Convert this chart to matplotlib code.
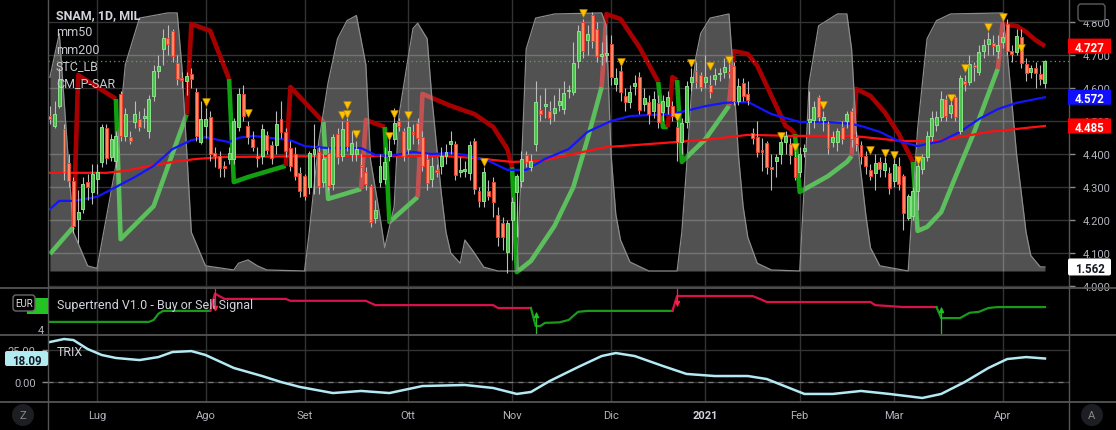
import matplotlib
matplotlib.use("Agg")
import matplotlib.pyplot as plt
import matplotlib.transforms as mtransforms
from matplotlib.patches import Rectangle, FancyBboxPatch, Circle
from matplotlib.lines import Line2D
import pandas as pd

plt.rcParams['font.family'] = ['Roboto', 'DejaVu Sans']

W, H = 1116, 431

# trading days (Borsa Italiana closed on these)
closed = ['2020-12-24', '2020-12-25', '2020-12-31', '2021-01-01', '2021-04-02', '2021-04-05']
days = pd.bdate_range('2020-06-17', '2021-04-16')
days = days[~days.isin(pd.to_datetime(closed))]
month_names = ['Lug', 'Ago', 'Set', 'Ott', 'Nov', 'Dic', '2021', 'Feb', 'Mar', 'Apr']

# SNAM daily candles (EUR)
opens = [4.515, 4.485, 4.545, 4.476, 4.373, 4.318, 4.203, 4.233, 4.315, 4.285,
         4.324, 4.376, 4.479, 4.391, 4.379, 4.582, 4.455, 4.452, 4.497, 4.506,
         4.509, 4.470, 4.576, 4.652, 4.718, 4.751, 4.773, 4.676, 4.630, 4.621,
         4.642, 4.588, 4.436, 4.485, 4.512, 4.403, 4.394, 4.364, 4.385, 4.385,
         4.482, 4.582, 4.485, 4.445, 4.394, 4.394, 4.458, 4.427, 4.427, 4.506,
         4.467, 4.418, 4.400, 4.342, 4.333, 4.300, 4.400, 4.406, 4.315, 4.403,
         4.309, 4.461, 4.394, 4.500, 4.400, 4.400, 4.367, 4.346, 4.303, 4.206,
         4.315, 4.324, 4.394, 4.445, 4.500, 4.470, 4.415, 4.467, 4.494, 4.452,
         4.385, 4.324, 4.352, 4.364, 4.394, 4.431, 4.430, 4.346, 4.349, 4.343,
         4.439, 4.288, 4.258, 4.288, 4.315, 4.215, 4.191, 4.103, 4.200, 4.285,
         4.318, 4.397, 4.361, 4.430, 4.533, 4.545, 4.530, 4.524, 4.549, 4.536,
         4.591, 4.588, 4.682, 4.800, 4.745, 4.821, 4.779, 4.697, 4.700, 4.733,
         4.612, 4.651, 4.576, 4.558, 4.606, 4.633, 4.552, 4.558, 4.530, 4.555,
         4.527, 4.545, 4.545, 4.482, 4.436, 4.497, 4.618, 4.652, 4.640, 4.618,
         4.609, 4.627, 4.643, 4.649, 4.649, 4.667, 4.561, 4.615, 4.582, 4.464,
         4.452, 4.412, 4.433, 4.361, 4.379, 4.400, 4.436, 4.430, 4.391, 4.345,
         4.409, 4.497, 4.503, 4.573, 4.503, 4.491, 4.436, 4.436, 4.482, 4.500,
         4.530, 4.452, 4.427, 4.394, 4.352, 4.343, 4.376, 4.352, 4.342, 4.318,
         4.364, 4.333, 4.206, 4.212, 4.288, 4.355, 4.391, 4.455, 4.488, 4.512,
         4.567, 4.524, 4.573, 4.470, 4.621, 4.618, 4.670, 4.649, 4.712, 4.733,
         4.736, 4.712, 4.739, 4.794, 4.712, 4.709, 4.755, 4.673, 4.649, 4.661,
         4.643, 4.615]
highs = [4.545, 4.560, 4.660, 4.490, 4.400, 4.330, 4.290, 4.330, 4.340, 4.370,
         4.370, 4.490, 4.490, 4.460, 4.470, 4.590, 4.540, 4.470, 4.560, 4.530,
         4.540, 4.580, 4.670, 4.700, 4.780, 4.790, 4.780, 4.700, 4.650, 4.650,
         4.660, 4.600, 4.560, 4.540, 4.530, 4.420, 4.410, 4.380, 4.420, 4.510,
         4.600, 4.610, 4.500, 4.470, 4.420, 4.490, 4.470, 4.440, 4.530, 4.560,
         4.480, 4.440, 4.420, 4.360, 4.340, 4.410, 4.490, 4.420, 4.400, 4.420,
         4.460, 4.480, 4.500, 4.510, 4.470, 4.440, 4.400, 4.360, 4.310, 4.260,
         4.400, 4.420, 4.450, 4.540, 4.510, 4.480, 4.500, 4.490, 4.510, 4.470,
         4.400, 4.390, 4.370, 4.420, 4.430, 4.470, 4.440, 4.390, 4.380, 4.440,
         4.450, 4.300, 4.360, 4.320, 4.330, 4.240, 4.210, 4.200, 4.270, 4.340,
         4.410, 4.410, 4.400, 4.620, 4.580, 4.600, 4.560, 4.580, 4.600, 4.620,
         4.610, 4.740, 4.790, 4.810, 4.790, 4.830, 4.800, 4.740, 4.760, 4.760,
         4.660, 4.670, 4.600, 4.610, 4.640, 4.650, 4.600, 4.580, 4.590, 4.580,
         4.580, 4.590, 4.560, 4.500, 4.510, 4.620, 4.660, 4.680, 4.650, 4.700,
         4.640, 4.660, 4.660, 4.690, 4.680, 4.680, 4.630, 4.630, 4.620, 4.480,
         4.500, 4.450, 4.440, 4.400, 4.400, 4.460, 4.470, 4.450, 4.410, 4.420,
         4.430, 4.590, 4.560, 4.580, 4.530, 4.500, 4.470, 4.480, 4.500, 4.530,
         4.540, 4.470, 4.440, 4.410, 4.370, 4.400, 4.390, 4.390, 4.360, 4.390,
         4.390, 4.340, 4.280, 4.300, 4.380, 4.400, 4.470, 4.530, 4.530, 4.590,
         4.580, 4.570, 4.580, 4.640, 4.640, 4.700, 4.680, 4.730, 4.750, 4.770,
         4.760, 4.760, 4.770, 4.810, 4.730, 4.780, 4.780, 4.690, 4.670, 4.680,
         4.670, 4.685]
lows = [4.490, 4.480, 4.540, 4.320, 4.300, 4.160, 4.130, 4.220, 4.260, 4.250,
        4.280, 4.360, 4.370, 4.380, 4.360, 4.440, 4.440, 4.430, 4.480, 4.470,
        4.480, 4.450, 4.560, 4.630, 4.670, 4.700, 4.680, 4.610, 4.600, 4.580,
        4.600, 4.440, 4.430, 4.450, 4.380, 4.360, 4.330, 4.330, 4.370, 4.370,
        4.470, 4.500, 4.430, 4.410, 4.360, 4.370, 4.400, 4.370, 4.400, 4.450,
        4.390, 4.350, 4.320, 4.270, 4.260, 4.280, 4.280, 4.280, 4.300, 4.290,
        4.290, 4.370, 4.380, 4.410, 4.380, 4.380, 4.330, 4.290, 4.180, 4.190,
        4.300, 4.310, 4.380, 4.430, 4.470, 4.380, 4.400, 4.430, 4.430, 4.350,
        4.290, 4.300, 4.330, 4.340, 4.370, 4.400, 4.320, 4.330, 4.330, 4.320,
        4.280, 4.240, 4.240, 4.260, 4.210, 4.120, 4.110, 4.040, 4.080, 4.150,
        4.300, 4.360, 4.350, 4.410, 4.500, 4.510, 4.490, 4.500, 4.530, 4.520,
        4.570, 4.580, 4.660, 4.690, 4.700, 4.720, 4.680, 4.670, 4.680, 4.610,
        4.590, 4.560, 4.530, 4.540, 4.580, 4.520, 4.530, 4.490, 4.510, 4.480,
        4.500, 4.520, 4.500, 4.380, 4.400, 4.480, 4.590, 4.600, 4.590, 4.600,
        4.570, 4.610, 4.620, 4.630, 4.630, 4.550, 4.550, 4.560, 4.550, 4.430,
        4.390, 4.350, 4.340, 4.290, 4.330, 4.370, 4.400, 4.370, 4.320, 4.330,
        4.390, 4.460, 4.480, 4.500, 4.470, 4.400, 4.420, 4.410, 4.430, 4.480,
        4.420, 4.410, 4.370, 4.340, 4.320, 4.290, 4.330, 4.330, 4.280, 4.300,
        4.290, 4.170, 4.200, 4.200, 4.230, 4.340, 4.380, 4.440, 4.470, 4.500,
        4.500, 4.510, 4.500, 4.460, 4.590, 4.610, 4.620, 4.640, 4.690, 4.700,
        4.700, 4.690, 4.720, 4.700, 4.680, 4.700, 4.660, 4.620, 4.630, 4.600,
        4.610, 4.600]
closes = [4.506, 4.521, 4.627, 4.345, 4.318, 4.182, 4.224, 4.309, 4.300, 4.339,
          4.345, 4.482, 4.388, 4.445, 4.455, 4.455, 4.521, 4.439, 4.521, 4.482,
          4.515, 4.567, 4.652, 4.667, 4.751, 4.733, 4.697, 4.627, 4.624, 4.636,
          4.627, 4.455, 4.506, 4.506, 4.400, 4.394, 4.358, 4.358, 4.403, 4.500,
          4.582, 4.515, 4.452, 4.421, 4.388, 4.476, 4.412, 4.388, 4.491, 4.467,
          4.409, 4.364, 4.333, 4.288, 4.273, 4.403, 4.415, 4.303, 4.385, 4.303,
          4.452, 4.391, 4.476, 4.424, 4.433, 4.415, 4.361, 4.309, 4.194, 4.230,
          4.364, 4.376, 4.409, 4.494, 4.485, 4.394, 4.482, 4.461, 4.449, 4.364,
          4.312, 4.364, 4.346, 4.394, 4.406, 4.440, 4.337, 4.352, 4.355, 4.427,
          4.294, 4.258, 4.345, 4.273, 4.255, 4.148, 4.148, 4.191, 4.255, 4.333,
          4.385, 4.376, 4.379, 4.558, 4.521, 4.552, 4.509, 4.539, 4.561, 4.585,
          4.594, 4.676, 4.773, 4.712, 4.764, 4.742, 4.697, 4.703, 4.706, 4.633,
          4.630, 4.588, 4.558, 4.588, 4.615, 4.533, 4.570, 4.521, 4.567, 4.497,
          4.561, 4.573, 4.515, 4.436, 4.494, 4.606, 4.633, 4.618, 4.603, 4.633,
          4.588, 4.640, 4.646, 4.664, 4.646, 4.561, 4.606, 4.576, 4.564, 4.449,
          4.406, 4.406, 4.361, 4.355, 4.391, 4.436, 4.455, 4.397, 4.330, 4.400,
          4.418, 4.506, 4.542, 4.512, 4.512, 4.418, 4.452, 4.470, 4.445, 4.521,
          4.445, 4.430, 4.394, 4.364, 4.333, 4.373, 4.355, 4.373, 4.297, 4.370,
          4.309, 4.221, 4.273, 4.288, 4.364, 4.391, 4.455, 4.509, 4.512, 4.567,
          4.515, 4.549, 4.512, 4.630, 4.612, 4.673, 4.664, 4.709, 4.730, 4.749,
          4.727, 4.730, 4.755, 4.712, 4.703, 4.758, 4.676, 4.646, 4.661, 4.646,
          4.627, 4.682]

price_ticks = [4.0, 4.1, 4.2, 4.3, 4.4, 4.5, 4.6, 4.7, 4.8]

# mm50 / mm200 read at points along the lines
ma50_i = [0, 2, 5, 10, 14, 18, 22, 26, 30, 33, 38, 40, 43, 51, 54, 59, 66, 69, 72, 77,
          81, 85, 88, 93, 97, 101, 105, 110, 114, 119, 123, 127, 132, 139, 143, 148, 153, 159, 165, 170,
          172, 176, 180, 184, 189, 193, 197, 201, 205, 211]
ma50_v = [4.233, 4.258, 4.258, 4.270, 4.300, 4.330, 4.364, 4.415, 4.442, 4.451,
          4.436, 4.449, 4.455, 4.442, 4.424, 4.418, 4.418, 4.397, 4.394, 4.406,
          4.400, 4.403, 4.397, 4.379, 4.352, 4.352, 4.385, 4.415, 4.467, 4.500,
          4.515, 4.518, 4.521, 4.545, 4.555, 4.558, 4.521, 4.497, 4.497, 4.491,
          4.485, 4.467, 4.439, 4.424, 4.439, 4.467, 4.506, 4.536, 4.555, 4.572]
ma200_i = [0, 12, 16, 20, 26, 31, 37, 60, 83, 90, 98, 104, 111, 118, 125, 139, 148, 157, 170, 181,
           187, 192, 199, 211]
ma200_v = [4.343, 4.343, 4.349, 4.361, 4.376, 4.385, 4.391, 4.394, 4.394, 4.388,
           4.376, 4.379, 4.400, 4.421, 4.428, 4.443, 4.458, 4.455, 4.455, 4.439,
           4.439, 4.449, 4.467, 4.485]

# STC_LB (0..100, own scale)
stc_i = [0, 2, 5, 8, 10, 14, 16, 19, 25, 27,
         28, 30, 33, 39, 40, 42, 44, 46, 54, 55,
         57, 59, 61, 63, 65, 67, 68, 70, 71, 73,
         74, 76, 77, 78, 80, 81, 83, 84, 85, 87,
         88, 90, 92, 95, 99, 100, 101, 103, 107, 117,
         118, 119, 120, 121, 123, 127, 133, 134, 135, 136,
         137, 138, 140, 144, 145, 146, 147, 148, 150, 153,
         159, 160, 161, 163, 167, 169, 170, 171, 173, 174,
         176, 182, 183, 184, 186, 188, 191, 202, 203, 205,
         207, 208, 210, 211]
stc_v = [75, 92, 15, 2, 1, 41, 80, 98, 100, 100,
         79, 15, 2, 0.4, 3, 4.3, 2, 0.4, 0, 15,
         50, 73, 90, 97, 99, 80, 43, 21, 9, 25,
         60, 83, 94, 96, 90, 67, 30, 15, 7, 3,
         12, 7, 1.5, 0, 0, 41, 86, 98, 99.6, 100,
         95, 45, 22, 12, 3.5, 0, 0, 15, 40, 68,
         83, 92, 98, 99.6, 75, 45, 25, 13, 3, 0.4,
         0, 34, 73, 95, 99.6, 99.6, 86, 54, 22, 9,
         2, 0, 28, 55, 90, 97, 99.6, 100, 85, 45,
         15, 6, 1.6, 1.562]

# CM_P-SAR (1 = below price / green, 0 = above price / red)
sar_i = [0, 5, 6, 14, 15, 22, 29, 30, 34, 38,
         39, 42, 50, 51, 58, 59, 66, 67, 71, 72,
         78, 79, 85, 90, 94, 97, 98, 99, 102, 107,
         111, 114, 117, 118, 121, 125, 129, 130, 131, 132,
         133, 134, 139, 144, 145, 148, 150, 153, 156, 157,
         158, 159, 165, 169, 170, 171, 174, 177, 180, 183,
         184, 186, 189, 192, 196, 201, 202, 205, 207, 209,
         211]
sar_p = [4.097, 4.179, 4.639, 4.567, 4.142, 4.242, 4.520, 4.794, 4.773, 4.627,
         4.315, 4.330, 4.364, 4.603, 4.497, 4.264, 4.294, 4.503, 4.482, 4.194,
         4.270, 4.582, 4.546, 4.521, 4.482, 4.415, 4.360, 4.042, 4.076, 4.182,
         4.300, 4.445, 4.603, 4.824, 4.809, 4.724, 4.618, 4.482, 4.482, 4.633,
         4.624, 4.376, 4.445, 4.546, 4.712, 4.703, 4.667, 4.576, 4.485, 4.476,
         4.461, 4.285, 4.333, 4.376, 4.394, 4.597, 4.576, 4.527, 4.461, 4.376,
         4.167, 4.179, 4.224, 4.330, 4.467, 4.658, 4.794, 4.788, 4.770, 4.745,
         4.727]
sar_up = [1, 1, 0, 0, 1, 1, 1, 0, 0, 0,
          1, 1, 1, 0, 0, 1, 1, 0, 0, 1,
          1, 0, 0, 0, 0, 0, 0, 1, 1, 1,
          1, 1, 1, 0, 0, 0, 0, 1, 1, 0,
          0, 1, 1, 1, 0, 0, 0, 0, 0, 0,
          0, 1, 1, 1, 1, 0, 0, 0, 0, 0,
          1, 1, 1, 1, 1, 1, 0, 0, 0, 0,
          0]

# STC_LB sell marks
tri_i = [33, 42, 62, 63, 63, 65, 72, 73, 76, 92, 113, 121, 133, 136, 140, 144, 155, 158, 164, 174,
         177, 179, 184, 191, 194, 199, 202, 206]
tri_p = [4.558, 4.524, 4.518, 4.521, 4.549, 4.461, 4.455, 4.521, 4.518, 4.376,
         4.827, 4.679, 4.512, 4.676, 4.667, 4.685, 4.455, 4.421, 4.549, 4.412,
         4.403, 4.397, 4.382, 4.570, 4.661, 4.785, 4.815, 4.721]

# Supertrend V1.0
st_i = [0, 21, 22, 23, 24, 34,
        35, 37, 50, 51, 67, 69, 94, 95, 102,
        103, 104, 105, 108, 110, 112, 114, 132,
        133, 149, 151, 152, 174, 175, 181, 188,
        189, 193, 195, 197, 199, 201, 211]
st_v = [4.21, 4.21, 4.25, 4.38, 4.44, 4.44,
        4.80, 4.69, 4.69, 4.65, 4.65, 4.56, 4.56, 4.50, 4.50,
        4.125, 4.125, 4.19, 4.20, 4.25, 4.42, 4.44, 4.44,
        4.75, 4.75, 4.67, 4.625, 4.625, 4.56, 4.52, 4.52,
        4.29, 4.29, 4.40, 4.42, 4.50, 4.52, 4.52]
st_up = [1, 1, 1, 1, 1, 1,
         0, 0, 0, 0, 0, 0, 0, 0, 0,
         1, 1, 1, 1, 1, 1, 1, 1,
         0, 0, 0, 0, 0, 0, 0, 0,
         1, 1, 1, 1, 1, 1, 1]
sig_i = [35, 103, 133, 189]
sig_lo = [4.45, 3.958, 4.54, 3.958]
sig_hi = [4.917, 4.42, 4.917, 4.52]
sig_up = [0, 1, 0, 1]

# TRIX
tx_i = [0, 3, 5, 8, 11, 14, 19, 23, 26, 30, 33, 39, 45, 49, 53, 60, 66, 72, 79, 88,
        94, 99, 102, 106, 112, 117, 120, 124, 130, 135, 141, 148, 152, 160, 166, 172, 178, 185, 189, 194,
        199, 203, 207, 211]
tx_v = [30.8, 33.1, 32.3, 25.4, 20.8, 18.5, 16.9, 19.2, 23.1, 23.8,
        20.8, 10.8, 4.6, 0, -3.8, -8.5, -6.9, -8.5, -3.1, -2.3,
        -4.6, -9.2, -7.7, 0.8, 11.5, 20, 22.3, 20, 12.3, 6.2,
        4.6, 4.6, 2.3, -9.2, -9.2, -6.9, -9.2, -12.3, -9.2, 0,
        10.8, 17.7, 19.2, 18.09]
trix_ticks = [0, 25]

TXT = '#b2b5be'
GRID = '#333333'
XL = (-0.4, 216.1)


def fx(x):
    return x / W


def fy(y):
    return 1 - y / H


def prect(x0, y0, x1, y1):
    return [fx(x0), fy(y1), (x1 - x0) / W, (y1 - y0) / H]


month_pos = [i for i in range(1, len(days)) if days[i].month != days[i - 1].month]

fig = plt.figure(figsize=(W / 100, H / 100), dpi=100, facecolor='black')
ax = fig.add_axes(prect(48, 0, 1069, 288))
ax_st = fig.add_axes(prect(48, 289, 1069, 335))
ax_tx = fig.add_axes(prect(48, 336, 1069, 403))
for a in (ax, ax_st, ax_tx):
    a.set_facecolor('black')
    for s in a.spines.values():
        s.set_visible(False)
    a.set_xticks(month_pos)
    a.grid(axis='x', color=GRID, lw=1)
    a.set_axisbelow(True)
    a.tick_params(axis='x', length=0, labelbottom=False)

# ---- main pane ----
ax_stc = ax.twinx()
ax_stc.axis('off')

# parabolic SAR, one run per trend
up_col, dn_col = '#10a010', '#a80000'
start = 0
for k in range(1, len(sar_i) + 1):
    if k == len(sar_i) or sar_up[k] != sar_up[start]:
        xs = sar_i[start:k]
        ys = sar_p[start:k]
        if start > 0:
            xs = [sar_i[start - 1]] + xs
            ys = [sar_p[start - 1]] + ys
        ax.plot(xs, ys, color=up_col if sar_up[start] else dn_col, lw=3.3,
                solid_joinstyle='round', solid_capstyle='butt', zorder=1.5)
        start = k

ax.fill_between(stc_i, stc_v, 0, transform=ax_stc.transData, color='white',
                alpha=0.32, lw=0, zorder=2)
ax.plot(stc_i, stc_v, transform=ax_stc.transData, color='#8c8c8c', lw=0.9, zorder=2.1)

ax.axhline(closes[-1], color='#4caf50', ls=(0, (1, 2.5)), lw=0.9, zorder=3)

ax.plot(ma200_i, ma200_v, color='#ff1010', lw=1.6, zorder=4)
ax.plot(ma50_i, ma50_v, color='#1414ff', lw=1.6, zorder=4.1)

x = list(range(len(closes)))
rising = [c >= o for o, c in zip(opens, closes)]
body_fc = ['#4cc44c' if r else '#ff8a65' for r in rising]
body_ec = ['#8be28b' if r else '#f0402e' for r in rising]
ax.vlines(x, lows, highs, color='#bcbcbc', lw=0.8, zorder=4.5)
ax.bar(x, [c - o for o, c in zip(opens, closes)], bottom=opens, width=0.62,
       color=body_fc, edgecolor=body_ec, lw=0.7, zorder=5)

ax.scatter(tri_i, tri_p, marker='v', s=30, color='#ffc400', edgecolor='#c98f00',
           lw=0.5, zorder=6)

ax.set_xlim(*XL)
ax.set_ylim(3.997, 4.8697)
ax_stc.set_ylim(-6.2, 105.4)
ax.yaxis.tick_right()
ax.set_yticks(price_ticks)
ax.set_yticklabels(['%.3f' % t for t in price_ticks])
ax.tick_params(axis='y', length=4, width=1, color='#8a8a8a', pad=6, labelcolor=TXT,
               labelsize=8)
ax.grid(axis='y', color=GRID, lw=1)

# ---- supertrend pane ----
start = 0
st_up_col, st_dn_col = '#1a9a1a', '#d8124a'
for k in range(1, len(st_i) + 1):
    if k == len(st_i) or st_up[k] != st_up[start]:
        xs = st_i[start:k]
        ys = st_v[start:k]
        if start > 0:
            xs = [st_i[start - 1]] + xs
            ys = [st_v[start - 1]] + ys
        ax_st.plot(xs, ys, color=st_up_col if st_up[start] else st_dn_col, lw=1.6, zorder=3)
        start = k
for si, lo, hi, u in zip(sig_i, sig_lo, sig_hi, sig_up):
    c = '#22c022' if u else '#ff1f3f'
    ax_st.vlines(si, lo, hi, color=c, lw=0.9, zorder=4)
    ax_st.plot(si, hi - 0.06 if u else lo + 0.06, marker='^' if u else 'v', ms=3,
               color=c, zorder=4)
ax_st.set_xlim(*XL)
ax_st.set_ylim(3.958, 4.917)
ax_st.set_yticks([])

# ---- TRIX pane ----
ax_tx.axhline(0, color='#7a7a7a', ls=(0, (4, 4)), lw=0.9, zorder=2)
ax_tx.plot(tx_i, tx_v, color='#b4e9f3', lw=1.8, zorder=3)
ax_tx.set_xlim(*XL)
ax_tx.set_ylim(-15.4, 36.2)
ax_tx.set_yticks(trix_ticks)
ax_tx.set_yticklabels(['%.2f' % t for t in trix_ticks])
ax_tx.tick_params(axis='y', length=4, width=1, color='#8a8a8a', pad=5, labelcolor=TXT,
                  labelsize=8)
ax_tx.grid(axis='y', color=GRID, lw=1)
ax_tx.set_xticks(month_pos)
ax_tx.set_xticklabels(month_names)
ax_tx.tick_params(axis='x', length=0, pad=6, labelbottom=True, labelcolor=TXT, labelsize=8)
lab = ax_tx.get_xticklabels()[month_names.index('2021')]
lab.set_fontweight('bold')
lab.set_color('#d1d4dc')

# ---- frame lines ----
for yy in (288.5, 335.5, 403):
    fig.add_artist(Line2D([0, 1], [fy(yy)] * 2, color='#555555', lw=1.3))
for xx in (48, 1069):
    fig.add_artist(Line2D([fx(xx)] * 2, [0, 1], color='#555555', lw=1))

PIX = mtransforms.IdentityTransform()


def pix_box(x0, y0, x1, y1, fc, ec='none', r=0):
    fig.add_artist(FancyBboxPatch((x0, H - y1), x1 - x0, y1 - y0,
                                  boxstyle='round,pad=0,rounding_size=%g' % r,
                                  transform=PIX, fc=fc, ec=ec, lw=1, zorder=10))


def tag(trans, val, txt, fc, tc, x0, x1, h=15, r=0):
    yd = H - trans.transform((0, val))[1]
    pix_box(x0, yd - h / 2, x1, yd + h / 2, fc, r=r)
    fig.text(fx((x0 + x1) / 2), fy(yd), txt, ha='center', va='center_baseline',
             color=tc, fontsize=8.3, fontweight='bold', zorder=11)


tag(ax.transData, sar_p[-1], '%.3f' % sar_p[-1], '#ff0000', 'white', 1068, 1111)
tag(ax.transData, ma50_v[-1], '%.3f' % ma50_v[-1], '#1010ff', 'white', 1068, 1111)
tag(ax.transData, ma200_v[-1], '%.3f' % ma200_v[-1], '#ff0000', 'white', 1068, 1111)
tag(ax_stc.transData, stc_v[-1], '%.3f' % stc_v[-1], 'white', '#131722', 1068, 1111, h=17, r=2)
tag(ax_tx.transData, tx_v[-1], '%.2f' % tx_v[-1], '#b2ebf2', '#131722', 5, 48, h=15, r=2)

# currency badges
pix_box(1078, 5, 1105, 22, 'black', ec='#5c5c5c', r=3)
fig.text(fx(1091.5), fy(13.5), 'EUR', ha='center', va='center', color='#d1d4dc', fontsize=7.5)
pix_box(27, 299, 48, 315, '#22c322')
pix_box(13, 296, 35, 312, 'black', ec='#6a6a6a', r=3)
fig.text(fx(24), fy(304), 'EUR', ha='center', va='center', color='#e0e0e0', fontsize=7,
         zorder=12)
fig.text(fx(41), fy(331), '4', ha='center', va='center', color=TXT, fontsize=8)

# corner buttons
for cx, ch in ((23, 'Z'), (1092, 'A')):
    fig.add_artist(Circle((cx, H - 416), 11, transform=PIX, fc='#1d1e24', ec='none'))
    fig.text(fx(cx), fy(416), ch, ha='center', va='center', color='#8a8a8a', fontsize=8)

# legends
fig.text(fx(56), fy(16), 'SNAM, 1D, MIL', fontsize=9, fontweight='bold', color='#d1d4dc',
         va='center')
for yy, name in ((33, 'mm50'), (50, 'mm200'), (67, 'STC_LB'), (84, 'CM_P-SAR')):
    fig.text(fx(56), fy(yy), name, fontsize=9, color='#c8cad0', va='center')
fig.text(fx(57), fy(305), 'Supertrend V1.0 - Buy or Sell Signal', fontsize=9,
         color='#d1d4dc', va='center')
fig.text(fx(57), fy(353), 'TRIX', fontsize=9, color='#d1d4dc', va='center')

fig.savefig('out.png', dpi=100, facecolor='black')
